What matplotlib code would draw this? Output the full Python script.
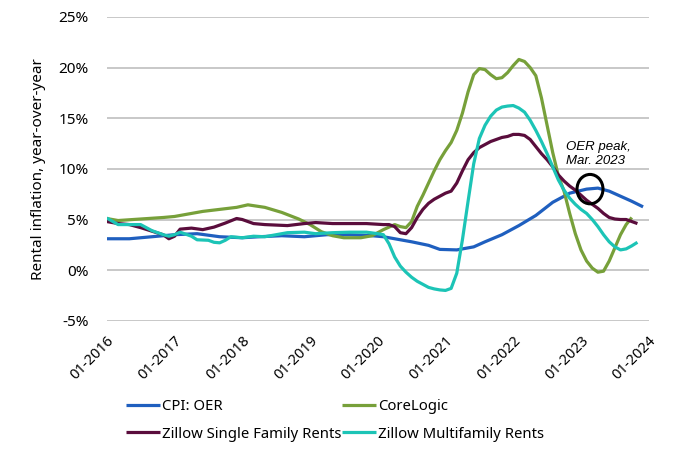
import matplotlib
matplotlib.use("Agg")
import matplotlib.pyplot as plt
from matplotlib.patches import Ellipse
import numpy as np

# months counted from 01-2016 (0) to 01-2024 (96)
tick_months = [0, 12, 24, 36, 48, 60, 72, 84, 96]
tick_labels = ["01-2016", "01-2017", "01-2018", "01-2019", "01-2020",
               "01-2021", "01-2022", "01-2023", "01-2024"]
y_ticks = [-5, 0, 5, 10, 15, 20, 25]

# CPI: OER
oer_m = [0, 4, 8, 12, 16, 20, 24, 27, 31, 35, 39, 43, 47, 49, 52, 54, 57, 59,
         62, 65, 67, 70, 73, 76, 79, 82, 85, 87, 89, 91, 93, 95]
oer_v = [3.1, 3.1, 3.3, 3.5, 3.6, 3.3, 3.2, 3.3, 3.4, 3.3, 3.5, 3.5, 3.4, 3.3,
         3.0, 2.8, 2.45, 2.05, 2.0, 2.3, 2.8, 3.5, 4.4, 5.4, 6.7, 7.6, 8.0,
         8.1, 7.8, 7.3, 6.8, 6.25]

# CoreLogic
core_m = [0, 2, 6, 10, 12, 14, 17, 20, 23, 25, 28, 31, 34, 36, 38, 40, 42, 45,
          47, 49, 51, 52, 53, 54, 55, 56, 57, 58, 59, 60, 61, 62, 63, 64, 65,
          66, 67, 68, 69, 70, 71, 72, 73, 74, 75, 76, 77, 78, 79, 80, 81, 82,
          83, 84, 85, 86, 87, 88, 89, 90, 91, 92, 93]
core_v = [5.1, 4.9, 5.05, 5.2, 5.3, 5.5, 5.8, 6.0, 6.2, 6.45, 6.2, 5.7, 5.05,
          4.5, 3.8, 3.4, 3.2, 3.2, 3.4, 4.0, 4.5, 4.3, 4.2, 4.8, 6.3, 7.4, 8.6,
          9.8, 10.9, 11.8, 12.6, 13.8, 15.5, 17.6, 19.3, 19.9, 19.8, 19.3,
          18.9, 19.0, 19.5, 20.2, 20.8, 20.6, 20.0, 19.2, 17.0, 14.3, 11.6,
          9.3, 7.8, 5.6, 3.6, 2.0, 0.9, 0.2, -0.2, -0.1, 0.9, 2.2, 3.5, 4.5,
          5.2]

# Zillow Single Family Rents
sfr_m = [0, 2, 4, 6, 8, 10, 11, 12, 13, 15, 17, 19, 21, 23, 24, 26, 28, 32,
         35, 37, 40, 43, 46, 49, 50, 51, 52, 53, 54, 55, 56, 57, 58, 59, 60,
         61, 62, 63, 64, 65, 66, 67, 68, 69, 70, 71, 72, 73, 74, 75, 76, 77,
         78, 79, 80, 81, 82, 83, 84, 85, 86, 87, 88, 89, 90, 91, 92, 93, 94]
sfr_v = [4.8, 4.6, 4.5, 4.2, 3.85, 3.5, 3.1, 3.35, 4.05, 4.15, 4.0, 4.25,
         4.65, 5.1, 5.0, 4.6, 4.5, 4.4, 4.6, 4.7, 4.6, 4.6, 4.6, 4.5, 4.5,
         4.3, 3.7, 3.6, 4.2, 5.2, 6.0, 6.6, 7.0, 7.3, 7.6, 7.8, 8.6, 9.8,
         10.9, 11.6, 12.1, 12.4, 12.7, 12.9, 13.1, 13.2, 13.4, 13.4, 13.3,
         12.9, 12.2, 11.5, 10.9, 10.2, 9.4, 8.8, 8.3, 7.9, 7.4, 6.9, 6.5,
         6.1, 5.6, 5.2, 5.05, 5.0, 5.0, 4.8, 4.6]

# Zillow Multifamily Rents
mfr_m = [0, 2, 5, 6, 7, 8, 10, 11, 12, 13, 15, 16, 18, 19, 20, 21, 22, 24,
         26, 28, 30, 32, 35, 37, 40, 43, 46, 48, 49, 50, 51, 52, 53, 54, 55,
         56, 57, 58, 59, 60, 61, 62, 63, 64, 65, 66, 67, 68, 69, 70, 71, 72,
         73, 74, 75, 76, 77, 78, 79, 80, 81, 82, 83, 84, 85, 86, 87, 88, 89,
         90, 91, 92, 93, 94]
mfr_v = [5.15, 4.5, 4.5, 4.5, 4.2, 3.9, 3.5, 3.35, 3.5, 3.75, 3.35, 3.0,
         2.95, 2.75, 2.7, 2.95, 3.3, 3.2, 3.35, 3.3, 3.5, 3.7, 3.75, 3.6,
         3.7, 3.75, 3.75, 3.6, 3.5, 2.6, 1.3, 0.4, -0.2, -0.7, -1.1, -1.4,
         -1.7, -1.85, -1.95, -2.0, -1.8, -0.3, 3.0, 6.8, 10.5, 13.0, 14.3,
         15.2, 15.8, 16.1, 16.2, 16.25, 16.0, 15.6, 14.8, 13.8, 12.7, 11.5,
         10.2, 8.9, 7.9, 7.1, 6.5, 6.0, 5.6, 5.0, 4.3, 3.5, 2.8, 2.3, 2.0,
         2.1, 2.4, 2.75]

series = [
    ("CPI: OER", oer_m, oer_v, "#1f5fbf"),
    ("CoreLogic", core_m, core_v, "#77a03a"),
    ("Zillow Single Family Rents", sfr_m, sfr_v, "#5a0d3c"),
    ("Zillow Multifamily Rents", mfr_m, mfr_v, "#1cc4b6"),
]

plt.rcParams['font.family'] = ['Noto Sans', 'DejaVu Sans']

fig = plt.figure(figsize=(6.8, 4.57), dpi=100)
ax = fig.add_axes([0.157, 0.298, 0.797, 0.665])

lines = {}
for name, m, v, c in series:
    lines[name], = ax.plot(m, v, color=c, lw=2.3, label=name,
                           solid_capstyle='butt')

ax.set_xlim(0, 96)
ax.set_ylim(-5, 25)
ax.set_yticks(y_ticks)
ax.set_yticklabels([f"{t}%" for t in y_ticks], fontsize=11)
ax.set_xticks(tick_months)
ax.set_xticklabels(tick_labels, fontsize=10.5, rotation=45, ha='right',
                   rotation_mode='anchor')
ax.tick_params(axis='y', length=0, pad=13)
ax.tick_params(axis='x', length=0, pad=9)
ax.grid(axis='y', color='#c4c4c4', lw=1.3)
ax.set_axisbelow(True)
for s in ax.spines.values():
    s.set_visible(False)
ax.set_ylabel("Rental inflation, year-over-year", fontsize=11, labelpad=9)

# OER peak annotation
ax.add_patch(Ellipse((85.6, 8.0), 4.6, 2.9, fill=False, ec='black', lw=2.2,
                     zorder=5))
ax.text(81.3, 10.2, "OER peak,\nMar. 2023", fontsize=9.5, style='italic',
        family=['Liberation Sans'], ha='left', va='bottom', linespacing=1.15)

# row-major legend order like the original
order = ["CPI: OER", "Zillow Single Family Rents", "CoreLogic",
         "Zillow Multifamily Rents"]
fig.legend([lines[k] for k in order], order, loc='upper left',
           bbox_to_anchor=(0.185, 0.127), ncol=2, frameon=False,
           fontsize=10.7, handlelength=2.3, handletextpad=0.12,
           columnspacing=0.05, borderpad=0, labelspacing=0.85,
           borderaxespad=0)

fig.savefig("out.png", dpi=100)
